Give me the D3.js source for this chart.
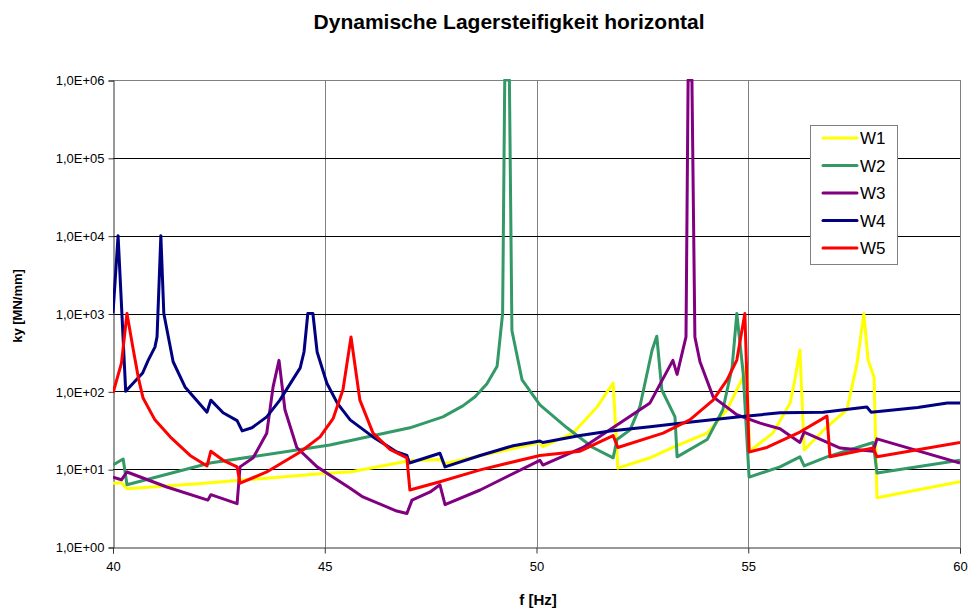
<!DOCTYPE html>
<html>
<head>
<meta charset="utf-8">
<script src="https://cdn.jsdelivr.net/npm/d3@7"></script>
<style>
  body { margin: 0; background: #fff; }
  text { font-family: "Liberation Sans", Arial, sans-serif; }
</style>
</head>
<body>
<div id="chart"></div>
<script>
// frequency ticks and stiffness ticks
var xTicks = [40, 45, 50, 55, 60];
var yTicks = [1, 10, 100, 1000, 10000, 100000, 1000000];
var seriesNames = ["W1", "W2", "W3", "W4", "W5"];
var seriesColors = ["#ffff00", "#339966", "#800080", "#000080", "#ff0000"];

// [f in Hz, ky in MN/mm]
var w1 = [[40,6.6],[40.2,6.7],[40.33,5.6],[42,6.5],[45.12,8.9],[45.6,9.2],[47.0,12.8],[47.72,13.3],[47.84,11.8],
  [50.08,22],[50.15,19.5],[50.86,29],[51.43,63],[51.81,128],[51.92,10.3],[52.68,14],[53.22,19],[54.03,29],
  [54.5,58],[54.88,153],[54.96,220],[55.03,17],[55.58,29],[55.99,71],[56.1,140],[56.22,340],[56.32,17.6],
  [56.86,35],[57.33,58],[57.57,230],[57.73,1000],[57.83,250],[57.97,153],[58.04,4.3],[60,6.9]];
var w2 = [[40,11.3],[40.24,13.5],[40.33,6.3],[42.29,12],[45.12,20.4],[47.01,34],[47.79,47],[48.26,65],[48.55,85],
  [48.83,125],[49.07,210],[49.2,1000],[49.25,1000000],[49.36,1000000],[49.42,600],[49.66,140],[50.08,67],
  [50.72,34],[51.33,19],[51.81,14],[51.9,24],[52.21,32],[52.44,63],[52.73,340],[52.84,510],[52.96,104],
  [53.27,47],[53.32,14.4],[54.03,24],[54.4,58],[54.62,205],[54.73,1000],[54.88,172],[55.02,7.9],[55.75,10.7],
  [56.22,14.4],[56.32,11],[56.86,14.4],[57.95,22],[58.04,8.9],[60,13]];
var w3 = [[40,7.9],[40.2,7.3],[40.33,9.2],[41.27,5.9],[42.24,4.0],[42.31,4.7],[42.93,3.6],[43.0,10.7],[43.31,14],
  [43.63,29],[43.78,114],[43.92,250],[44.06,58],[44.34,19],[44.82,10.7],[45.6,5.7],[45.9,4.4],[46.7,2.9],
  [46.94,2.7],[47.06,4.0],[47.49,5.1],[47.72,6.3],[47.84,3.5],[48.67,5.4],[50.08,13],[50.15,11.3],[51.1,19],
  [51.9,37],[52.68,71],[53.22,250],[53.32,165],[53.53,500],[53.58,1000000],[53.67,1000000],[53.74,500],
  [53.86,240],[54.17,85],[54.73,50],[55.28,39],[55.75,33],[56.22,22],[56.32,30],[57.17,18.7],[57.95,17],
  [58.04,24.5],[60,12]];
var w4 = [[40,1000],[40.12,10000],[40.3,100],[40.7,172],[40.83,250],[40.99,370],[41.04,500],[41.13,10000],
  [41.2,1000],[41.42,240],[41.7,114],[42.22,54],[42.31,77],[42.6,53],[42.93,42],[43.05,31],[43.28,34],
  [43.63,47],[43.94,77],[44.42,200],[44.51,320],[44.6,1000],[44.72,1000],[44.82,320],[45.05,127],[45.3,70],
  [45.6,43],[46.14,26],[46.7,16.6],[46.94,15],[47.0,12],[47.72,16],[47.84,10.7],[48.67,15],[49.45,20],[50.08,23],
  [50.15,22],[51.03,27],[51.74,31],[52.68,35],[53.6,40],[54.8,47],[55.75,53],[56.77,54],[57.8,63],[57.9,54],
  [59,62],[59.7,71],[60,71]];
var w5 = [[40,95],[40.2,230],[40.33,1000],[40.48,340],[40.6,148],[40.71,82],[40.99,43],[41.35,26],[41.82,15],
  [42.22,11],[42.31,17],[42.6,13],[42.93,10.7],[43.0,6.6],[43.63,9.2],[44.42,16.6],[44.89,26],[45.12,39],
  [45.2,45],[45.43,105],[45.62,500],[45.83,77],[46.14,29],[46.54,18],[46.94,14],[47.01,5.4],[47.72,6.9],
  [48.67,9.8],[50.08,15],[51.03,17],[51.81,27],[51.92,19],[52.99,29],[53.62,43],[54.17,77],[54.5,140],
  [54.73,252],[54.92,1000],[55.02,16.6],[55.44,19],[56.22,30],[56.86,48],[56.93,14.4],[57.95,18.7],
  [58.04,14.4],[60,22]];
var seriesData = [w1, w2, w3, w4, w5];

var width = 972, height = 610;
var plotLeft = 113, plotRight = 960, plotTop = 80, plotBottom = 547;

var svg = d3.select("#chart").append("svg")
    .attr("width", width)
    .attr("height", height);

var x = d3.scaleLinear().domain([40, 60]).range([plotLeft, plotRight]);
var y = d3.scaleLog().domain([1, 1000000]).range([plotBottom, plotTop]);

svg.append("defs").append("clipPath").attr("id", "clip")
    .append("rect").attr("x", plotLeft).attr("y", plotTop - 1)
    .attr("width", plotRight - plotLeft).attr("height", plotBottom - plotTop + 1);

// gridlines
svg.selectAll(".vgrid").data(xTicks.slice(1)).enter().append("line")
    .attr("x1", function(d) { return Math.round(x(d)) + 0.5; })
    .attr("x2", function(d) { return Math.round(x(d)) + 0.5; })
    .attr("y1", plotTop).attr("y2", plotBottom)
    .attr("stroke", "#808080").attr("stroke-width", 1);
svg.selectAll(".hgrid").data(yTicks.slice(1)).enter().append("line")
    .attr("x1", plotLeft).attr("x2", plotRight)
    .attr("y1", function(d) { return Math.round(y(d)) + 0.5; })
    .attr("y2", function(d) { return Math.round(y(d)) + 0.5; })
    .attr("stroke", function(d) { return d == 1000000 ? "#808080" : "#000"; })
    .attr("stroke-width", 1);

// axes
var yAxis = d3.axisLeft(y).tickValues(yTicks).tickSize(5).tickPadding(4)
    .tickFormat(function(d) {
        var e = Math.round(Math.log10(d));
        return "1,0E+" + (e < 10 ? "0" : "") + e;
    });
var xAxis = d3.axisBottom(x).tickValues(xTicks).tickSize(6).tickPadding(8)
    .tickFormat(d3.format("d"));

var gy = svg.append("g").attr("transform", "translate(" + (plotLeft + 0.5) + ",0.5)").call(yAxis);
var gx = svg.append("g").attr("transform", "translate(0," + (plotBottom + 0.5) + ")").call(xAxis);
[gx, gy].forEach(function(g) {
    g.attr("font-size", null).attr("font-family", null);
    g.select(".domain").attr("stroke", "#333");
    g.selectAll(".tick line").attr("stroke", "#333");
    g.selectAll("text").style("font-size", "13px").attr("fill", "#000");
});

// curves
var line = d3.line()
    .x(function(d) { return x(d[0]); })
    .y(function(d) { return y(d[1]); });

svg.append("g").attr("clip-path", "url(#clip)")
    .selectAll("path").data(seriesData).enter().append("path")
    .attr("d", line)
    .attr("fill", "none")
    .attr("stroke", function(d, i) { return seriesColors[i]; })
    .attr("stroke-width", 3)
    .attr("stroke-linejoin", "round");

// titles
svg.append("text").attr("x", 509).attr("y", 29)
    .attr("text-anchor", "middle").style("font-size", "21px").style("font-weight", "bold")
    .text("Dynamische Lagersteifigkeit horizontal");
svg.append("text").attr("x", 538).attr("y", 605)
    .attr("text-anchor", "middle").style("font-size", "15px").style("font-weight", "bold")
    .text("f [Hz]");
svg.append("text").attr("transform", "translate(22,306) rotate(-90)")
    .attr("text-anchor", "middle").style("font-size", "13px").style("font-weight", "bold")
    .text("ky [MN/mm]");

// legend
var legend = svg.append("g").attr("transform", "translate(810,125)");
legend.append("rect").attr("x", 0.5).attr("y", 0.5).attr("width", 87).attr("height", 139)
    .attr("fill", "#fff").attr("stroke", "#808080");
var items = legend.selectAll(".item").data(seriesNames).enter().append("g")
    .attr("transform", function(d, i) { return "translate(0," + (13 + i * 27.5) + ")"; });
items.append("line").attr("x1", 13).attr("x2", 47).attr("y1", 0).attr("y2", 0)
    .attr("stroke", function(d, i) { return seriesColors[i]; })
    .attr("stroke-width", 3).attr("stroke-linecap", "round");
items.append("text").attr("x", 50).attr("y", 6).style("font-size", "17px")
    .text(function(d) { return d; });
</script>
</body>
</html>
